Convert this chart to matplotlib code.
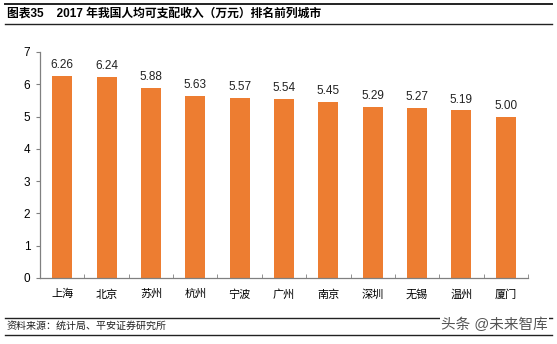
import matplotlib
matplotlib.use("Agg")
import matplotlib.pyplot as plt
from matplotlib.lines import Line2D

plt.rcParams['font.family'] = ['Liberation Sans', 'Noto Sans CJK SC', 'DejaVu Sans']

# 数据
cities = ["上海", "北京", "苏州", "杭州", "宁波", "广州", "南京", "深圳", "无锡", "温州", "厦门"]
income = [6.26, 6.24, 5.88, 5.63, 5.57, 5.54, 5.45, 5.29, 5.27, 5.19, 5.00]
yticks = [0, 1, 2, 3, 4, 5, 6, 7]

title = "图表35    2017 年我国人均可支配收入（万元）排名前列城市"
source = "资料来源：统计局、平安证券研究所"
watermark = "头条 @未来智库"

bar_color = "#ED7D31"
axis_grey = "#808080"

fig = plt.figure(figsize=(5.57, 3.44), dpi=100)
ax = fig.add_axes([40 / 557, 1 - 278 / 344, 488 / 557, 226 / 344])

x = range(len(cities))
bars = ax.bar(x, income, width=0.45, color=bar_color, zorder=2)
for b, v in zip(bars, income):
    ax.text(b.get_x() + b.get_width() / 2, v + 0.15, f"{v:.2f}",
            ha="center", va="bottom", fontsize=8.5, color="#222222")

ax.set_xlim(-0.5, len(cities) - 0.5)
ax.set_ylim(0, 7)
ax.set_yticks(yticks)
ax.set_xticks(list(x))
ax.set_xticklabels(cities, fontsize=8)
ax.tick_params(axis="x", length=0, pad=8)
ax.set_xticks([i + 0.5 for i in range(len(cities))], minor=True)
ax.tick_params(axis="x", which="minor", direction="in", length=3, color=axis_grey)
ax.tick_params(axis="y", labelsize=8.5, length=3, direction="out", color=axis_grey, pad=4)

for s in ("top", "right"):
    ax.spines[s].set_visible(False)
for s in ("left", "bottom"):
    ax.spines[s].set_color(axis_grey)
    ax.spines[s].set_linewidth(0.9)

# Kopf- und Fußlinien
def hline(y, lw):
    fig.add_artist(Line2D([5 / 557, 552 / 557], [1 - y / 344] * 2,
                          transform=fig.transFigure, color="#222222", lw=lw))

hline(4, 1.4)
hline(24, 1.0)
hline(318, 1.0)
hline(335, 1.0)

fig.text(7 / 557, 1 - 14 / 344, title, fontsize=8.5, fontweight="bold",
         va="center", ha="left", color="black")
fig.text(7 / 557, 1 - 326 / 344, source, fontsize=7.2, style="italic",
         va="center", ha="left", color="#222222")
fig.text(548 / 557, 1 - 325 / 344, watermark, fontsize=10.5, va="center", ha="right",
         color="#555555", bbox=dict(facecolor="white", edgecolor="none", pad=1))

fig.savefig("out.png", dpi=100)
